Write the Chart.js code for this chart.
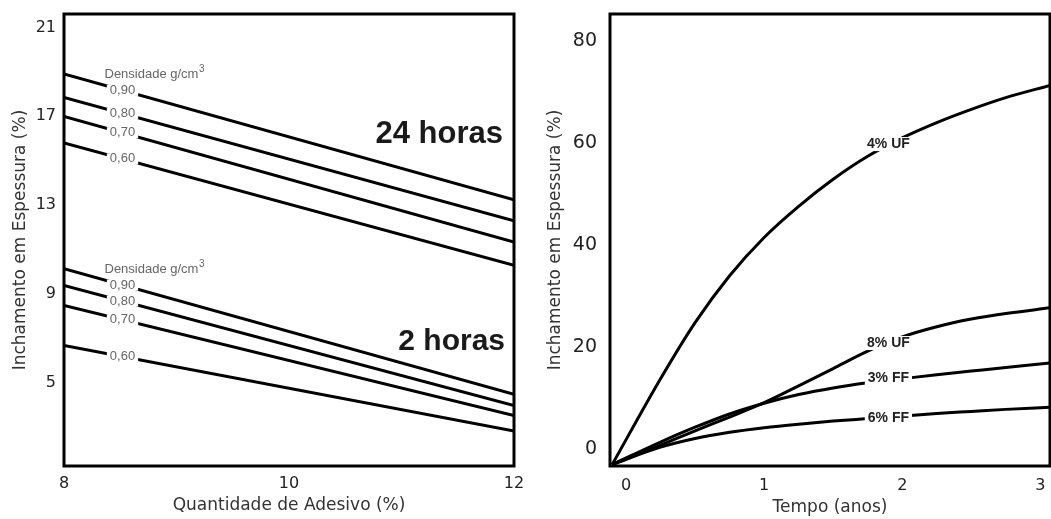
<!DOCTYPE html>
<html><head><meta charset="utf-8">
<script src="https://cdn.jsdelivr.net/npm/chart.js@4"></script>
<style>
html,body{margin:0;padding:0;background:#fff;overflow:hidden}
#wrap{position:relative;width:1051px;height:519px;background:#fff}
#c1{position:absolute;left:0;top:0}
#c2{position:absolute;left:530px;top:0}
</style></head><body>
<div id="wrap"><canvas id="c1" width="530" height="519"></canvas><canvas id="c2" width="521" height="519"></canvas></div>
<script>
// ---------- Left chart data ----------
const adhesivePct = [8, 12];
const densityLabels = ['0,90', '0,80', '0,70', '0,60'];
const swell24h_090 = [18.9, 13.25];
const swell24h_080 = [17.85, 12.3];
const swell24h_070 = [17.0, 11.35];
const swell24h_060 = [15.8, 10.3];
const swell2h_090 = [10.15, 4.5];
const swell2h_080 = [9.4, 4.0];
const swell2h_070 = [8.5, 3.55];
const swell2h_060 = [6.7, 2.85];
const leftYTicks = [5, 9, 13, 17, 21];
const leftXTicks = [8, 10, 12];

// ---------- Right chart data ----------
const timeYears = [-0.1, 0.25, 0.5, 0.75, 1.0, 1.25, 1.5, 1.75, 2.0, 2.25, 2.5, 2.75, 3.07];
const swell_4UF = [-3, 13.8, 24.8, 34.0, 41.5, 47.6, 52.9, 57.4, 61.0, 64.0, 66.6, 68.9, 71.3];
const swell_8UF = [-3, 0.8, 3.6, 6.3, 9.1, 12.4, 15.8, 19.2, 22.0, 24.0, 25.5, 26.6, 27.7];
const swell_3FF = [-3, 1.4, 4.3, 6.9, 9.0, 10.7, 12.0, 13.0, 13.8, 14.6, 15.3, 16.0, 16.9];
const swell_6FF = [-3, 0.4, 2.1, 3.3, 4.2, 4.9, 5.5, 6.0, 6.5, 7.0, 7.4, 7.8, 8.2];
const seriesNames = ['4% UF', '8% UF', '3% FF', '6% FF'];
const rightYTicks = [0, 20, 40, 60, 80];
const rightXTicks = [0, 1, 2, 3];

// ---------- helpers ----------
const pts = (xs, ys) => xs.map((x, i) => ({x, y: ys[i]}));
const lineDs = (xs, ys, extra) => Object.assign({
  data: pts(xs, ys), borderColor: '#000', borderWidth: 3, pointRadius: 0,
  fill: false, tension: 0
}, extra || {});
const setTicks = arr => scale => { scale.ticks = arr.map(v => ({value: v})); };
const fixSize = (w, h) => s => {
  if (w !== null) s.width = w;
  if (h !== null) s.height = h;
  s.paddingTop = 0; s.paddingBottom = 0; s.paddingLeft = 0; s.paddingRight = 0;
};

function inlineLabel(ctx, text, px, py, font, color, padX, h) {
  ctx.save();
  ctx.font = font;
  const w = ctx.measureText(text).width;
  ctx.fillStyle = '#fff';
  ctx.fillRect(px - w / 2 - padX, py - h / 2, w + 2 * padX, h);
  ctx.fillStyle = color;
  ctx.textAlign = 'center';
  ctx.textBaseline = 'middle';
  ctx.fillText(text, px, py);
  ctx.restore();
}

const framePlugin = {
  id: 'frame',
  afterDraw(chart) {
    const a = chart.chartArea, ctx = chart.ctx;
    ctx.save();
    ctx.lineWidth = 3;
    ctx.strokeStyle = '#000';
    ctx.strokeRect(a.left, a.top, a.right - a.left, a.bottom - a.top);
    ctx.restore();
  }
};

// ---------- Left chart ----------
const groups24 = [swell24h_090, swell24h_080, swell24h_070, swell24h_060];
const groups2 = [swell2h_090, swell2h_080, swell2h_070, swell2h_060];
const lineAt = (vals, x) => vals[0] + (vals[1] - vals[0]) * (x - adhesivePct[0]) / (adhesivePct[1] - adhesivePct[0]);
const densLabelX = 8.52;
const headerX = 8.36;

const leftLabels = {
  id: 'leftLabels',
  afterDatasetsDraw(chart) {
    const ctx = chart.ctx, xs = chart.scales.x, ys = chart.scales.y;
    const a = chart.chartArea;
    const lf = '13px "Liberation Sans", Arial, sans-serif';
    [groups24, groups2].forEach(g => {
      g.forEach((vals, i) => {
        const px = xs.getPixelForValue(densLabelX);
        const py = ys.getPixelForValue(lineAt(vals, densLabelX));
        inlineLabel(ctx, densityLabels[i], px, py, lf, '#666', 3, 11);
      });
      const hx = xs.getPixelForValue(headerX);
      const hy = ys.getPixelForValue(lineAt(g[0], densLabelX)) - 16;
      ctx.save();
      ctx.font = lf;
      ctx.fillStyle = '#666';
      ctx.textAlign = 'left';
      ctx.textBaseline = 'middle';
      const t = 'Densidade g/cm';
      ctx.fillText(t, hx, hy);
      const w = ctx.measureText(t).width;
      ctx.font = '10px "Liberation Sans", Arial, sans-serif';
      ctx.fillText('3', hx + w + 0.5, hy - 5);
      ctx.restore();
    });
    ctx.save();
    ctx.fillStyle = '#1a1a1a';
    ctx.textAlign = 'right';
    ctx.textBaseline = 'middle';
    ctx.font = 'bold 31px "Liberation Sans", Arial, sans-serif';
    ctx.fillText('24 horas', a.right - 11, ys.getPixelForValue(16.2));
    ctx.font = 'bold 30px "Liberation Sans", Arial, sans-serif';
    ctx.fillText('2 horas', a.right - 9, ys.getPixelForValue(6.85));
    ctx.restore();
  }
};

const leftDatasets = [];
groups24.concat(groups2).forEach(vals => leftDatasets.push(lineDs(adhesivePct, vals)));

new Chart(document.getElementById('c1'), {
  type: 'line',
  data: {datasets: leftDatasets},
  options: {
    responsive: false, devicePixelRatio: 1, animation: false,
    layout: {padding: {top: 14, right: 16, left: 0, bottom: 0}},
    plugins: {legend: {display: false}, tooltip: {enabled: false}},
    scales: {
      x: {
        type: 'linear', min: 8, max: 12,
        afterBuildTicks: setTicks(leftXTicks),
        afterFit: fixSize(null, 53),
        grid: {display: false, drawTicks: false}, border: {display: false},
        ticks: {padding: 8, color: '#222', font: {family: 'DejaVu Sans', size: 16}},
        title: {display: true, text: 'Quantidade de Adesivo (%)', color: '#333',
          font: {family: 'DejaVu Sans', size: 17}, padding: {top: 0, bottom: 3}}
      },
      y: {
        type: 'linear', min: 1.28, max: 21.6,
        afterBuildTicks: setTicks(leftYTicks),
        afterFit: fixSize(64, null),
        grid: {display: false, drawTicks: false}, border: {display: false},
        ticks: {padding: 8, color: '#222', font: {family: 'DejaVu Sans', size: 16}},
        title: {display: true, text: 'Inchamento em Espessura (%)', color: '#333',
          font: {family: 'DejaVu Sans', size: 17}, padding: {top: 10, bottom: 0}}
      }
    }
  },
  plugins: [leftLabels, framePlugin]
});

// ---------- Right chart ----------
const curveLabelX = 1.9;
const curveLabelY = [59.8, 20.8, 13.9, 6.1];
const rightLabels = {
  id: 'rightLabels',
  afterDatasetsDraw(chart) {
    const ctx = chart.ctx, xs = chart.scales.x, ys = chart.scales.y;
    seriesNames.forEach((n, i) => {
      inlineLabel(ctx, n, xs.getPixelForValue(curveLabelX), ys.getPixelForValue(curveLabelY[i]),
        'bold 14px "Liberation Sans", Arial, sans-serif', '#222', 3, 14);
    });
  }
};

const mono = {cubicInterpolationMode: 'monotone'};
new Chart(document.getElementById('c2'), {
  type: 'line',
  data: {datasets: [
    lineDs(timeYears, swell_4UF, mono),
    lineDs(timeYears, swell_8UF, mono),
    lineDs(timeYears, swell_3FF, mono),
    lineDs(timeYears, swell_6FF, mono)
  ]},
  options: {
    responsive: false, devicePixelRatio: 1, animation: false,
    layout: {padding: {top: 14, right: 1, left: 0, bottom: 0}},
    plugins: {legend: {display: false}, tooltip: {enabled: false}},
    scales: {
      x: {
        type: 'linear', min: -0.116, max: 3.07,
        afterBuildTicks: setTicks(rightXTicks),
        afterFit: fixSize(null, 53),
        grid: {display: false, drawTicks: false}, border: {display: false},
        ticks: {padding: 10, color: '#222', font: {family: 'DejaVu Sans', size: 16}},
        title: {display: true, text: 'Tempo (anos)', color: '#333',
          font: {family: 'DejaVu Sans', size: 17}, padding: {top: 0, bottom: 1}}
      },
      y: {
        type: 'linear', min: -3.3, max: 85.3,
        afterBuildTicks: setTicks(rightYTicks),
        afterFit: fixSize(80, null),
        grid: {display: false, drawTicks: false}, border: {display: false},
        ticks: {padding: 13, color: '#222', font: {family: 'DejaVu Sans', size: 19}},
        title: {display: true, text: 'Inchamento em Espessura (%)', color: '#333',
          font: {family: 'DejaVu Sans', size: 17}, padding: {top: 15, bottom: 0}}
      }
    }
  },
  plugins: [rightLabels, framePlugin]
});
</script>
</body></html>
